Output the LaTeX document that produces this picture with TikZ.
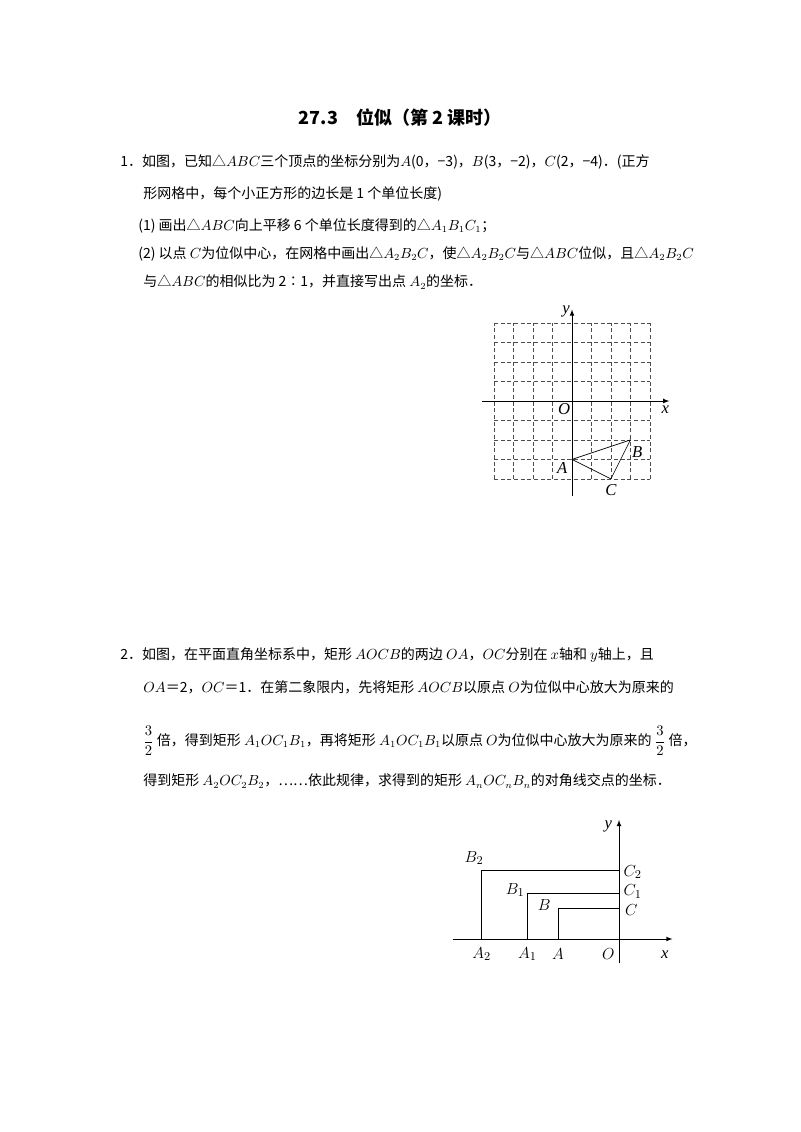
\documentclass[tikz,border=0pt]{standalone}
\usepackage{fontspec}
\setmainfont{Liberation Serif}
\newfontfamily\cjk{Noto Sans CJK SC}
\begin{document}
\begin{tikzpicture}[x=0.75pt,y=-0.75pt,
 t/.style={anchor=west,inner sep=0,font=\cjk\fontsize{10.5}{12}\selectfont},
 lb/.style={inner sep=1pt,font=\fontsize{12.5}{14}\selectfont},
 il/.style={inner sep=1pt,font=\itshape\fontsize{12.5}{14}\selectfont},
 gl/.style={densely dashed,line width=0.5pt,gray!60!black},
 ax/.style={line width=0.6pt,-latex}]
\useasboundingbox (0,0) rectangle (800,1132);
\node[inner sep=0,font=\cjk\bfseries\fontsize{13.5}{15}\selectfont] (title) at (400,118) {27.3\quad 位似（第 2 课时）};
\node[t] (l1) at (120,162) {1．如图，已知△$ABC$三个顶点的坐标分别为$A$(0，−3)，$B$(3，−2)，$C$(2，−4)．(正方};
\node[t] (l2) at (143,194) {形网格中，每个小正方形的边长是 1 个单位长度)};
\node[t] (l3) at (138,226) {(1) 画出△$ABC$向上平移 6 个单位长度得到的△$A_1B_1C_1$；};
\node[t] (l4) at (138,254) {(2) 以点 $C$为位似中心，在网格中画出△$A_2B_2C$，使△$A_2B_2C$与△$ABC$位似，且△$A_2B_2C$};
\node[t] (l5) at (143,282) {与△$ABC$的相似比为 2∶1，并直接写出点 $A_2$的坐标．};
% figure 1
\begin{scope}[shift={(572,401)},x=14.6pt,y=14.6pt]
\foreach \i in {-4,...,4}{\draw[gl] (\i,-4)--(\i,4); \draw[gl] (-4,\i)--(4,\i);}
\draw[ax] (-4.6,0)--(5,0);
\draw[ax] (0,-4.9)--(0,4.7);
\node[il] (x1) at (4.8,-0.45) {x};
\node[il] (y1) at (-0.3,4.6) {y};
\node[il] (o1) at (-0.4,-0.4) {O};
\coordinate (A) at (0,-3); \coordinate (B) at (3,-2); \coordinate (C) at (2,-4);
\draw[line width=0.5pt] (A)--(B)--(C)--cycle;
\node[il] at (-0.5,-3.45) {A};
\node[il] at (3.35,-2.6) {B};
\node[il] at (2,-4.55) {C};
\end{scope}
% problem 2
\node[t] (m1) at (120,655) {2．如图，在平面直角坐标系中，矩形 $AOCB$的两边 $OA$，$OC$分别在 $x$轴和 $y$轴上，且};
\node[t] (m2) at (143,687) {$OA$＝2，$OC$＝1．在第二象限内，先将矩形 $AOCB$以原点 $O$为位似中心放大为原来的};
\node[t] (m3) at (143,741) {$\displaystyle\frac{3}{2}$ 倍，得到矩形 $A_1OC_1B_1$，再将矩形 $A_1OC_1B_1$以原点 $O$为位似中心放大为原来的 $\displaystyle\frac{3}{2}$ 倍，};
\node[t] (m4) at (143,781) {得到矩形 $A_2OC_2B_2$，……依此规律，求得到的矩形 $A_nOC_nB_n$的对角线交点的坐标．};
% figure 2
\begin{scope}[shift={(619,939)},x=22.9pt,y=22.9pt]
\draw[ax] (-5.45,0)--(1.75,0);
\draw[ax] (0,-0.8)--(0,3.9);
\draw[line width=0.4pt] (-2,0)--(-2,1)--(0,1);
\draw[line width=0.8pt] (-3,0)--(-3,1.5)--(0,1.5);
\draw[line width=0.8pt] (-4.5,0)--(-4.5,2.25)--(0,2.25);
\node[il] at (1.5,-0.5) {x};
\node[il] at (-0.35,3.7) {y};
\node[lb] at (-0.35,-0.5) {$O$};
\node[lb] at (-2,-0.5) {$A$};
\node[lb] at (-3,-0.5) {$A_1$};
\node[lb] at (-4.5,-0.5) {$A_2$};
\node[lb] at (-2.45,1.1) {$B$};
\node[lb] at (-3.4,1.6) {$B_1$};
\node[lb] at (-4.75,2.65) {$B_2$};
\node[lb] at (0.4,0.95) {$C$};
\node[lb] at (0.45,1.55) {$C_1$};
\node[lb] at (0.45,2.2) {$C_2$};
\end{scope}
\end{tikzpicture}
\end{document}
